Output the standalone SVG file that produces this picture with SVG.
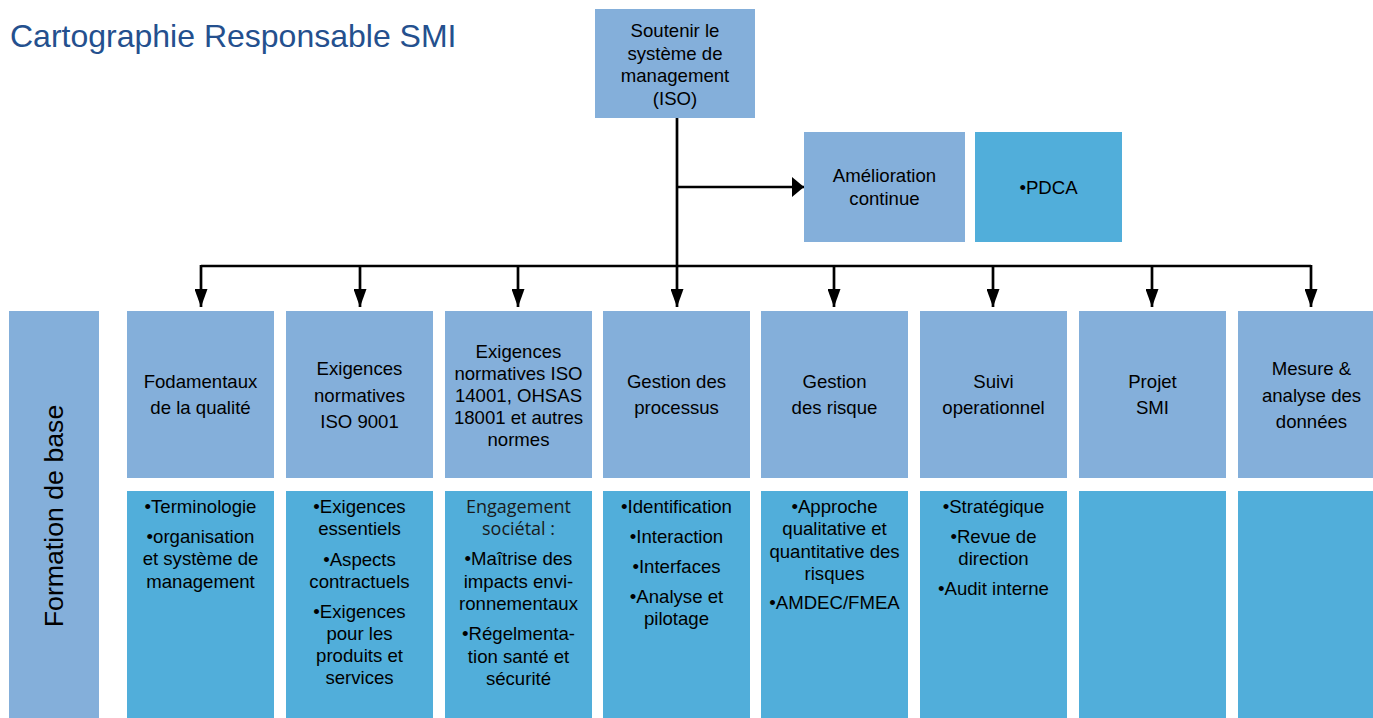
<svg xmlns="http://www.w3.org/2000/svg" width="1373" height="718" viewBox="0 0 1373 718">
<defs>
<marker id="ah" viewBox="0 0 18 13" refX="18" refY="6.5" markerWidth="18" markerHeight="13" markerUnits="userSpaceOnUse" orient="auto">
<path d="M0,0 L18,6.5 L0,13 Z" fill="#000"/>
</marker>
<marker id="ah2" viewBox="0 0 12 20" refX="12" refY="10" markerWidth="12" markerHeight="20" markerUnits="userSpaceOnUse" orient="auto">
<path d="M0,0 L12,10 L0,20 Z" fill="#000"/>
</marker>
<style>
.l{fill:#84AFDA}
.b{fill:#51AEDA}
.t{font-family:"Liberation Sans",Arial,sans-serif;font-size:18.6px;fill:#000;text-anchor:middle}
.o{font-family:"Open Sans","Noto Sans",sans-serif;font-size:18px;fill:#1a1a1a;text-anchor:middle}
.c{fill:none;stroke:#000;stroke-width:2.7}
</style>
</defs>
<rect width="1373" height="718" fill="#fff"/>
<text x="10" y="47" font-family="'Liberation Sans',Arial,sans-serif" font-size="32" fill="#24508E">Cartographie Responsable SMI</text>

<g id="connectors">
<path class="c" d="M677,118 V307" marker-end="url(#ah)"/>
<path class="c" d="M677,187 H804" marker-end="url(#ah2)"/>
<path class="c" d="M201,266 H1311"/>
<path class="c" d="M201,265 V307" marker-end="url(#ah)"/>
<path class="c" d="M360,265 V307" marker-end="url(#ah)"/>
<path class="c" d="M518,265 V307" marker-end="url(#ah)"/>
<path class="c" d="M834,265 V307" marker-end="url(#ah)"/>
<path class="c" d="M993,265 V307" marker-end="url(#ah)"/>
<path class="c" d="M1152,265 V307" marker-end="url(#ah)"/>
<path class="c" d="M1311,265 V307" marker-end="url(#ah)"/>
</g>

<g id="root">
<rect class="l" x="595" y="9" width="160" height="109"/>
<text class="t"><tspan x="675" y="37">Soutenir le</tspan><tspan x="675" y="59.5">système de</tspan><tspan x="675" y="82">management</tspan><tspan x="675" y="104.5">(ISO)</tspan></text>
</g>

<g id="amelioration">
<rect class="l" x="804" y="132" width="161" height="110"/>
<text class="t"><tspan x="884.5" y="182">Amélioration</tspan><tspan x="884.5" y="204.5">continue</tspan></text>
</g>
<g id="pdca">
<rect class="b" x="975" y="132" width="147" height="110"/>
<text class="t" x="1048.5" y="194">•PDCA</text>
</g>

<g id="formation">
<rect class="l" x="9" y="311" width="90" height="407"/>
<text x="0" y="0" transform="translate(63,516) rotate(-90)" font-family="'Liberation Sans',Arial,sans-serif" font-size="26.7" fill="#000" text-anchor="middle">Formation de base</text>
</g>

<g id="col1">
<rect class="l" x="127" y="311" width="147" height="167"/>
<text class="t"><tspan x="200.5" y="388">Fodamentaux</tspan><tspan x="200.5" y="414">de la qualité</tspan></text>
<rect class="b" x="127" y="491" width="147" height="227"/>
<text class="t"><tspan x="200.5" y="512.5">•Terminologie</tspan><tspan x="200.5" y="542.5">•organisation</tspan><tspan x="200.5" y="565">et système de</tspan><tspan x="200.5" y="587.5">management</tspan></text>
</g>

<g id="col2">
<rect class="l" x="286" y="311" width="147" height="167"/>
<text class="t"><tspan x="359.5" y="375">Exigences</tspan><tspan x="359.5" y="401.5">normatives</tspan><tspan x="359.5" y="428">ISO 9001</tspan></text>
<rect class="b" x="286" y="491" width="147" height="227"/>
<text class="t"><tspan x="359.5" y="512.5">•Exigences</tspan><tspan x="359.5" y="535">essentiels</tspan><tspan x="359.5" y="565.5">•Aspects</tspan><tspan x="359.5" y="587.5">contractuels</tspan><tspan x="359.5" y="617.5">•Exigences</tspan><tspan x="359.5" y="639.5">pour les</tspan><tspan x="359.5" y="662">produits et</tspan><tspan x="359.5" y="684">services</tspan></text>
</g>

<g id="col3">
<rect class="l" x="445" y="311" width="147" height="167"/>
<text class="t"><tspan x="518.5" y="358">Exigences</tspan><tspan x="518.5" y="380">normatives ISO</tspan><tspan x="518.5" y="402">14001, OHSAS</tspan><tspan x="518.5" y="424">18001 et autres</tspan><tspan x="518.5" y="446">normes</tspan></text>
<rect class="b" x="445" y="491" width="147" height="227"/>
<text class="o"><tspan x="518.5" y="513">Engagement</tspan><tspan x="518.5" y="535">sociétal :</tspan></text>
<text class="t"><tspan x="518.5" y="565">•Maîtrise des</tspan><tspan x="518.5" y="587.5">impacts envi-</tspan><tspan x="518.5" y="610">ronnementaux</tspan><tspan x="518.5" y="640">•Régelmenta-</tspan><tspan x="518.5" y="662.5">tion santé et</tspan><tspan x="518.5" y="684.5">sécurité</tspan></text>
</g>

<g id="col4">
<rect class="l" x="603" y="311" width="147" height="167"/>
<text class="t"><tspan x="676.5" y="388">Gestion des</tspan><tspan x="676.5" y="414">processus</tspan></text>
<rect class="b" x="603" y="491" width="147" height="227"/>
<text class="t"><tspan x="676.5" y="512.5">•Identification</tspan><tspan x="676.5" y="542.5">•Interaction</tspan><tspan x="676.5" y="572.5">•Interfaces</tspan><tspan x="676.5" y="602.5">•Analyse et</tspan><tspan x="676.5" y="624.5">pilotage</tspan></text>
</g>

<g id="col5">
<rect class="l" x="761" y="311" width="147" height="167"/>
<text class="t"><tspan x="834.5" y="388">Gestion</tspan><tspan x="834.5" y="414">des risque</tspan></text>
<rect class="b" x="761" y="491" width="147" height="227"/>
<text class="t"><tspan x="834.5" y="512.5">•Approche</tspan><tspan x="834.5" y="535">qualitative et</tspan><tspan x="834.5" y="557.5">quantitative des</tspan><tspan x="834.5" y="580">risques</tspan><tspan x="834.5" y="609">•AMDEC/FMEA</tspan></text>
</g>

<g id="col6">
<rect class="l" x="920" y="311" width="147" height="167"/>
<text class="t"><tspan x="993.5" y="388">Suivi</tspan><tspan x="993.5" y="414">operationnel</tspan></text>
<rect class="b" x="920" y="491" width="147" height="227"/>
<text class="t"><tspan x="993.5" y="512.5">•Stratégique</tspan><tspan x="993.5" y="542.5">•Revue de</tspan><tspan x="993.5" y="565">direction</tspan><tspan x="993.5" y="595">•Audit interne</tspan></text>
</g>

<g id="col7">
<rect class="l" x="1079" y="311" width="147" height="167"/>
<text class="t"><tspan x="1152.5" y="388">Projet</tspan><tspan x="1152.5" y="414">SMI</tspan></text>
<rect class="b" x="1079" y="491" width="147" height="227"/>
</g>

<g id="col8">
<rect class="l" x="1238" y="311" width="147" height="167"/>
<text class="t"><tspan x="1311.5" y="375">Mesure &amp;</tspan><tspan x="1311.5" y="401.5">analyse des</tspan><tspan x="1311.5" y="428">données</tspan></text>
<rect class="b" x="1238" y="491" width="147" height="227"/>
</g>
</svg>
